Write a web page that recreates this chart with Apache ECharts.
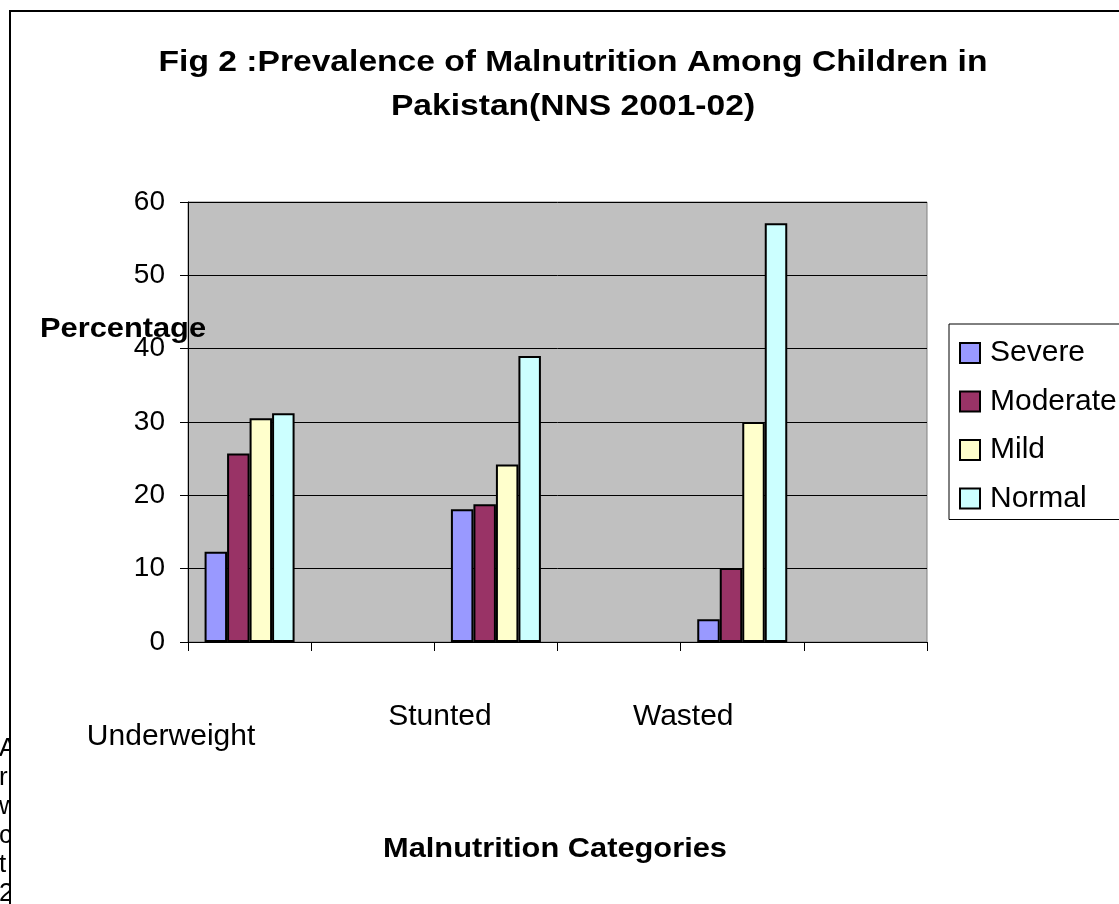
<!DOCTYPE html>
<html>
<head>
<meta charset="utf-8">
<script src="https://cdn.jsdelivr.net/npm/echarts@6/dist/echarts.min.js"></script>
<style>
  html, body { margin: 0; padding: 0; background: #fff; }
  #chart { width: 1119px; height: 904px; }
</style>
</head>
<body>
<div id="chart"></div>
<script>
// Malnutrition categories and prevalence (%) by severity
const categories = ['Underweight', 'Stunted', 'Wasted'];
const severe   = [12.3, 18.1, 3.1];
const moderate = [25.7, 18.8, 10.1];
const mild     = [30.5, 24.2, 30.0];
const normal   = [31.2, 39.0, 57.1];
const seriesNames = ['Severe', 'Moderate', 'Mild', 'Normal'];
const seriesColors = ['#9999FF', '#993366', '#FFFFCC', '#CCFFFF'];
const titleLines = ['Fig 2 :Prevalence of Malnutrition Among Children in', 'Pakistan(NNS 2001-02)'];
const yAxisName = 'Percentage';
const xAxisName = 'Malnutrition Categories';
const marginLetters = ['A', 'r', 'w', 'c', 't', '2'];

const FONT = '"Liberation Sans", Arial, sans-serif';

// Each category occupies a slot followed by an empty slot
const slotNames = [];
categories.forEach(c => { slotNames.push(c); slotNames.push(c + '_gap'); });
const toSlots = vals => vals.flatMap(v => [v, '-']);
const seriesValues = [severe, moderate, mild, normal];

// Per-label offsets for the category names
const labelRich = {
  c0: { fontSize: 30, lineHeight: 30, fontFamily: FONT, color: '#000', padding: [40, 157, 0, 0] },
  c1: { fontSize: 30, lineHeight: 30, fontFamily: FONT, color: '#000', padding: [0, 112, 0, 0] },
  c2: { fontSize: 30, lineHeight: 30, fontFamily: FONT, color: '#000', padding: [0, 118, 0, 0] }
};

const chart = echarts.init(document.getElementById('chart'), null, { renderer: 'canvas' });

const graphics = [];
// frame around the chart
graphics.push({
  type: 'rect', z: 30, silent: true,
  shape: { x: 10, y: 11, width: 1200, height: 1000 },
  style: { fill: 'none', stroke: '#000', lineWidth: 2 }
});
// cut-off text in the left margin
marginLetters.forEach((ch, i) => {
  graphics.push({
    type: 'text', z: 10, x: -1, y: 749 + i * 29,
    style: { text: ch, font: '26px ' + FONT, fill: '#000', verticalAlign: 'middle', align: 'left' }
  });
});
graphics.push({
  type: 'rect', z: 20, silent: true,
  shape: { x: 11, y: 700, width: 60, height: 204 },
  style: { fill: '#fff' }
});
// title
titleLines.forEach((t, i) => {
  graphics.push({
    type: 'text', z: 40, x: 573, y: 63 + i * 43.5, scaleX: 1.12,
    style: { text: t, font: 'bold 30px ' + FONT, fill: '#000', align: 'center', verticalAlign: 'middle' }
  });
});
// axis names
graphics.push({
  type: 'text', z: 40, x: 40, y: 329, scaleX: 1.1,
  style: { text: yAxisName, font: 'bold 28px ' + FONT, fill: '#000', align: 'left', verticalAlign: 'middle' }
});
graphics.push({
  type: 'text', z: 40, x: 555, y: 849, scaleX: 1.1,
  style: { text: xAxisName, font: 'bold 28px ' + FONT, fill: '#000', align: 'center', verticalAlign: 'middle' }
});

const option = {
  backgroundColor: '#fff',
  animation: false,
  grid: {
    left: 188, top: 202, width: 739, height: 440,
    show: true, backgroundColor: '#C0C0C0', borderColor: '#808080', borderWidth: 1
  },
  legend: {
    orient: 'vertical',
    left: 949, top: 324,
    data: seriesNames,
    icon: 'rect',
    itemWidth: 20, itemHeight: 20,
    itemGap: 18.5,
    padding: [14, 40, 6, 10],
    backgroundColor: '#fff',
    borderColor: '#000', borderWidth: 1,
    textStyle: { fontSize: 30, lineHeight: 30, fontFamily: FONT, color: '#000', padding: [0, 0, 0, 5] }
  },
  xAxis: {
    type: 'category',
    data: slotNames,
    boundaryGap: true,
    axisLine: { show: true, lineStyle: { color: '#000', width: 1 } },
    axisTick: { show: true, alignWithLabel: false, length: 9, lineStyle: { color: '#000' } },
    axisLabel: {
      interval: 0, margin: 60,
      formatter: (value, index) => index % 2 ? '' : '{c' + (index / 2) + '|' + value + '}',
      rich: labelRich
    },
    splitLine: { show: false }
  },
  yAxis: {
    type: 'value',
    min: 0, max: 60, interval: 10,
    axisLine: { show: true, lineStyle: { color: '#000', width: 1 } },
    axisTick: { show: true, length: 8, lineStyle: { color: '#000' } },
    axisLabel: { fontSize: 28, fontFamily: FONT, color: '#000', margin: 23 },
    splitLine: { show: true, lineStyle: { color: '#000', width: 1 } }
  },
  series: seriesNames.map((name, i) => ({
    name,
    type: 'bar',
    data: toSlots(seriesValues[i]),
    barWidth: 22.5,
    barGap: '0%',
    itemStyle: { color: seriesColors[i], borderColor: '#000', borderWidth: 2 }
  })),
  graphic: { elements: graphics }
};

chart.setOption(option);
</script>
</body>
</html>
